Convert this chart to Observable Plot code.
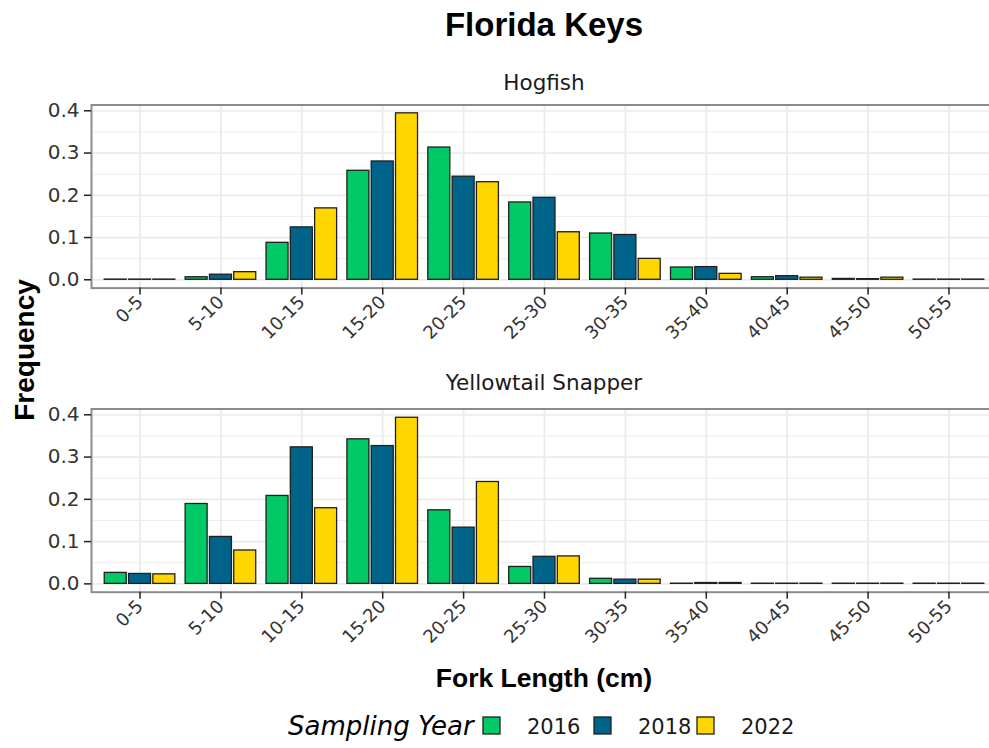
<!DOCTYPE html>
<html>
<head>
<meta charset="utf-8">
<script src="https://cdn.jsdelivr.net/npm/d3@7"></script>
<script src="https://cdn.jsdelivr.net/npm/@observablehq/plot@0.6"></script>
<style>
  body { margin: 0; background: #fff; }
  #chart { position: relative; width: 989px; height: 748px; overflow: hidden; background: #fff; }
  #chart > svg { position: absolute; left: 0; }
</style>
</head>
<body>
<div id="chart"></div>
<script>
// Fork-length bins (cm) and sampling years
const lengthBins = ["0-5", "5-10", "10-15", "15-20", "20-25", "25-30", "30-35", "35-40", "40-45", "45-50", "50-55"];
const years = ["2016", "2018", "2022"];
const yearColors = ["#00C965", "#00648A", "#FFD600"];
const yTicks = [0, 0.1, 0.2, 0.3, 0.4];
const yMinorTicks = [0.05, 0.15, 0.25, 0.35];

// Relative frequency per bin, Hogfish
const hogfish2016 = [0.0005, 0.006, 0.0875, 0.258, 0.313, 0.183, 0.1095, 0.029, 0.006, 0.002, 0.0005];
const hogfish2018 = [0.0005, 0.012, 0.124, 0.280, 0.244, 0.194, 0.106, 0.030, 0.0085, 0.0015, 0.0005];
const hogfish2022 = [0.0005, 0.018, 0.169, 0.394, 0.231, 0.1125, 0.0495, 0.014, 0.005, 0.005, 0.0005];

// Relative frequency per bin, Yellowtail Snapper
const yellowtail2016 = [0.026, 0.189, 0.208, 0.342, 0.174, 0.040, 0.012, 0.0005, 0.0005, 0.0005, 0.0005];
const yellowtail2018 = [0.0235, 0.111, 0.323, 0.326, 0.133, 0.064, 0.010, 0.002, 0.0005, 0.0005, 0.0005];
const yellowtail2022 = [0.0225, 0.079, 0.179, 0.393, 0.241, 0.065, 0.010, 0.002, 0.0005, 0.0005, 0.0005];

function toRows(seriesByYear) {
  const rows = [];
  years.forEach((year, i) => {
    seriesByYear[i].forEach((freq, j) => rows.push({bin: lengthBins[j], year, freq}));
  });
  return rows;
}

const hogfishRows = toRows([hogfish2016, hogfish2018, hogfish2022]);
const yellowtailRows = toRows([yellowtail2016, yellowtail2018, yellowtail2022]);

const font = "DejaVu Sans, sans-serif";
const gridColor = "#ebebeb";

function panel(rows, {top, height, marginTop, marginBottom}) {
  const slot = 24.3;
  const svg = Plot.plot({
    width: 989,
    height,
    marginTop,
    marginBottom,
    marginLeft: 91,
    marginRight: -8,
    style: {background: "transparent", fontFamily: font, color: "#333", overflow: "visible"},
    x: {domain: lengthBins, paddingInner: 0.1, paddingOuter: 0.15, round: false, label: null},
    y: {domain: [-0.0197, 0.4137], label: null},
    color: {domain: years, range: yearColors},
    marks: [
      Plot.gridY(yMinorTicks, {stroke: gridColor, strokeOpacity: 1, strokeWidth: 0.9}),
      Plot.gridY(yTicks, {stroke: gridColor, strokeOpacity: 1, strokeWidth: 1.8}),
      Plot.gridX({stroke: gridColor, strokeOpacity: 1, strokeWidth: 1.8}),
      ...years.map((yr, i) => Plot.barY(rows.filter(d => d.year === yr), {
        x: "bin", y: "freq", fill: "year",
        stroke: "#1f1f1f", strokeWidth: 1.3,
        insetLeft: 25.4, insetRight: 25.4, dx: (i - 1) * slot
      })),
      Plot.frame({stroke: "#8c8c8c", strokeWidth: 2}),
      Plot.axisY(yTicks, {tickFormat: d3.format(".1f"), tickSize: 7, tickPadding: 5, fontSize: 20, strokeWidth: 1.5, stroke: "#222"}),
      Plot.axisX({tickRotate: -45, tickSize: 7, tickPadding: 4, fontSize: 18, strokeWidth: 1.5, stroke: "#222"})
    ]
  });
  svg.style.top = top + "px";
  return svg;
}

const chart = document.getElementById("chart");
chart.appendChild(panel(hogfishRows, {top: 0, height: 340, marginTop: 104.5, marginBottom: 52.4}));
chart.appendChild(panel(yellowtailRows, {top: 340, height: 330, marginTop: 68.5, marginBottom: 78.3}));

// Titles, facet strips and legend
const overlay = d3.select(chart).append("svg")
  .attr("width", 989).attr("height", 748)
  .style("top", "0px").style("pointer-events", "none");

overlay.append("text").attr("x", 544).attr("y", 36).attr("text-anchor", "middle")
  .attr("font-family", "Liberation Sans, Arial, sans-serif").attr("font-weight", "bold").attr("font-size", 33)
  .text("Florida Keys");

overlay.append("text").attr("x", 544).attr("y", 89.5).attr("text-anchor", "middle")
  .attr("font-family", font).attr("font-size", 21.5).attr("fill", "#1a1a1a")
  .text("Hogfish");

overlay.append("text").attr("x", 544).attr("y", 390).attr("text-anchor", "middle")
  .attr("font-family", font).attr("font-size", 21.5).attr("fill", "#1a1a1a")
  .text("Yellowtail Snapper");

overlay.append("text").attr("transform", "translate(34,350) rotate(-90)").attr("text-anchor", "middle")
  .attr("font-family", "Liberation Sans, Arial, sans-serif").attr("font-weight", "bold").attr("font-size", 28)
  .text("Frequency");

overlay.append("text").attr("x", 544).attr("y", 687).attr("text-anchor", "middle")
  .attr("font-family", "Liberation Sans, Arial, sans-serif").attr("font-weight", "bold").attr("font-size", 26.5)
  .text("Fork Length (cm)");

overlay.append("text").attr("x", 288).attr("y", 735)
  .attr("font-family", font).attr("font-style", "italic").attr("font-size", 26)
  .text("Sampling Year");

const keyX = [483, 594, 697];
years.forEach((yr, i) => {
  overlay.append("rect").attr("x", keyX[i]).attr("y", 717).attr("width", 17).attr("height", 17)
    .attr("fill", yearColors[i]).attr("stroke", "#1f1f1f").attr("stroke-width", 1.3);
  overlay.append("text").attr("x", keyX[i] + 44).attr("y", 734)
    .attr("font-family", font).attr("font-size", 21).attr("fill", "#1a1a1a")
    .text(yr);
});
</script>
</body>
</html>
